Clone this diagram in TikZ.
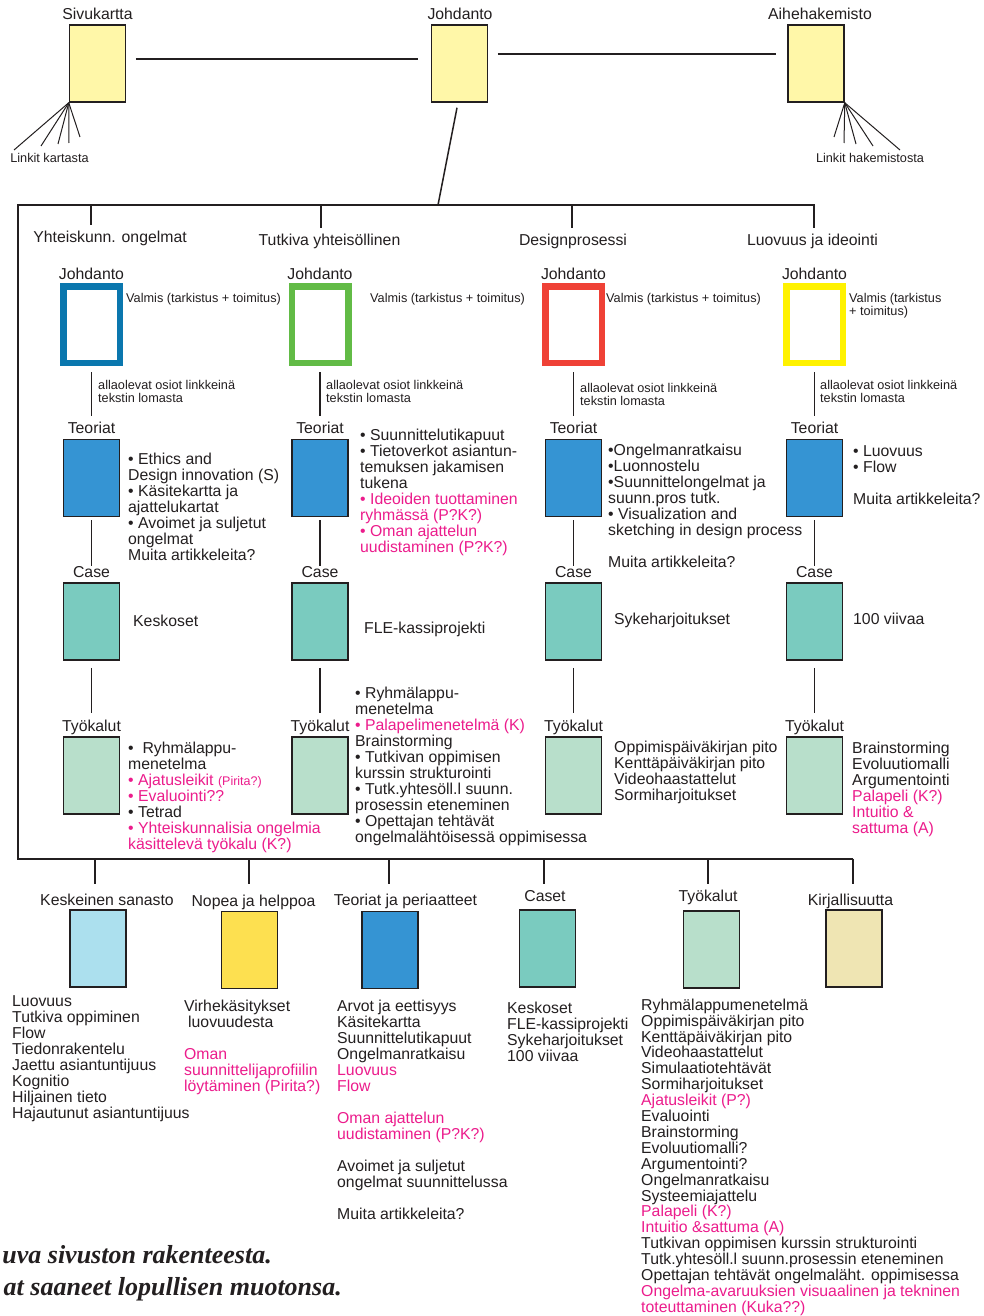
\documentclass[tikz,border=0pt]{standalone}
\usepackage{fontspec}
\setmainfont{Liberation Sans}
\newfontfamily\capserif{Liberation Serif}
\usetikzlibrary{calc}
\definecolor{ink}{HTML}{231F20}
\definecolor{hot}{HTML}{EC1C8C}
\definecolor{paleyellow}{HTML}{FFF7A8}
\definecolor{theoryblue}{HTML}{3594D3}
\definecolor{caseteal}{HTML}{7ACBBF}
\definecolor{toolgreen}{HTML}{B8DFCB}
\definecolor{vocabblue}{HTML}{ACE0EE}
\definecolor{quickyellow}{HTML}{FDE050}
\definecolor{litbeige}{HTML}{EFE5B3}
\definecolor{frameblue}{HTML}{0A77AE}
\definecolor{framegreen}{HTML}{62BB46}
\definecolor{framered}{HTML}{EF4136}
\definecolor{frameyellow}{HTML}{FFF200}
\newcommand\hot[1]{\textcolor{hot}{#1}}

\begin{document}
\begin{tikzpicture}[x=1pt,y=-1pt,
  txt/.style={inner sep=0pt, text=ink, font=\fontsize{15.8}{16}\selectfont},
  small/.style={inner sep=0pt, text=ink, font=\fontsize{12.7}{13}\selectfont},
  list/.style={txt, align=left, anchor=north west},
  smalllist/.style={small, align=left, anchor=north west},
  pagebox/.style={draw=ink, line width=1.5pt, minimum width=56pt, minimum height=77pt, inner sep=0pt},
  introframe/.style={draw=#1, line width=6.5pt, fill=white, minimum width=56.5pt, minimum height=76.5pt, inner sep=0pt},
  link/.style={draw=ink, line width=1.5pt},
  fan/.style={draw=ink, line width=1pt},
  bracket/.style={draw=ink, line width=2pt},
  caption/.style={inner sep=0pt, text=ink, anchor=base east, font=\fontsize{26}{30}\capserif\bfseries\itshape},
]
\useasboundingbox (0,0) rectangle (984,1316);
\fill[white] (0,0) rectangle (984,1316);

% ---------- top level pages ----------
\node[pagebox, fill=paleyellow] (sivu) at (97.5,63.5) {};
\node[pagebox, fill=paleyellow] (jtop) at (459.5,63.5) {};
\node[pagebox, fill=paleyellow] (aihe) at (816,63.5) {};
\node[txt, anchor=base] (sivuL) at (97.5,20) {Sivukartta};
\node[txt, anchor=base] (jtopL) at (460,20) {Johdanto};
\node[txt, anchor=base] (aiheL) at (820,20) {Aihehakemisto};

\draw[link, shorten <=9.5pt, shorten >=12.5pt] ([yshift=4.5pt]sivu.east) -- ([yshift=4.5pt]jtop.west);
\draw[link, shorten <=9.5pt, shorten >=11pt] ([yshift=9.5pt]jtop.east) -- ([yshift=9.5pt]aihe.west);

% link fans
\coordinate (sf1) at (14,150);
\coordinate (sf2) at (41,146);
\coordinate (sf3) at (58,144);
\coordinate (sf4) at (69,143);
\coordinate (sf5) at (80,137);
\coordinate (af1) at (834,137);
\coordinate (af2) at (844,143);
\coordinate (af3) at (856,144);
\coordinate (af4) at (873,146);
\coordinate (af5) at (900,150);
\foreach \i in {1,...,5} {
  \draw[fan] (sivu.south west) -- (sf\i);
  \draw[fan] (aihe.south east) -- (af\i);
}
\node[small, anchor=base] (sivuLinks) at (49.5,163) {Linkit kartasta};
\node[small, anchor=base] (aiheLinks) at (870,163) {Linkit hakemistosta};

% ---------- main bracket ----------
\coordinate (barL) at (18,205);
\coordinate (barR) at (815,205);
\coordinate (baseL) at (18,858.5);
\coordinate (baseR) at (853,858.5);
\coordinate (barjoin) at (438,205);
\draw[bracket] (barR) -- (barL) -- (baseL) -- (baseR);
\draw[link] ([xshift=-2.5pt,yshift=-5pt]jtop.south) -- (barjoin);

% section headings
\node[txt, anchor=base] (h1) at (110,242) {Yhteiskunn. ongelmat};
\node[txt, anchor=base] (h2) at (329.5,245) {Tutkiva yhteisöllinen};
\node[txt, anchor=base] (h3) at (573,245) {Designprosessi};
\node[txt, anchor=base] (h4) at (812.5,245) {Luovuus ja ideointi};
\coordinate (td1) at (91,205);
\coordinate (td2) at (321,205);
\coordinate (td3) at (572,205);
\coordinate (td4) at (814,205);
\foreach \i in {1,...,4} {
  \draw[link, shorten >=5.5pt] (td\i) -- (td\i |- h\i.north);
}

% ---------- four section columns ----------
\foreach \c/\x/\fc in {1/91.5/frameblue, 2/320/framegreen, 3/573.5/framered, 4/814.5/frameyellow} {
  \node[txt, anchor=base] (jl\c) at (\x,279) {Johdanto};
  \node[introframe=\fc] (jd\c) at (\x,324.5) {};
  \node[txt, anchor=base] (tl\c) at (\x,433) {Teoriat};
  \node[pagebox, fill=theoryblue] (th\c) at (\x,478) {};
  \node[txt, anchor=base] (cl\c) at (\x,577) {Case};
  \node[pagebox, fill=caseteal] (cs\c) at (\x,621.5) {};
  \node[txt, anchor=base] (wl\c) at (\x,731) {Työkalut};
  \node[pagebox, fill=toolgreen] (tk\c) at (\x,775.5) {};
  \draw[link, shorten <=6pt, shorten >=5.5pt] (jd\c.south) -- (jd\c.south |- tl\c.north);
  \draw[link, shorten <=3pt] (th\c.south) -- (th\c.south |- cl\c.north);
  \draw[link, shorten <=7pt, shorten >=6.5pt] (cs\c.south) -- (cs\c.south |- wl\c.north);
}

% status notes
\node[small, anchor=base west] (v1) at (126,302) {Valmis (tarkistus + toimitus)};
\node[small, anchor=base west] (v2) at (370,302) {Valmis (tarkistus + toimitus)};
\node[small, anchor=base west] (v3) at (606,302) {Valmis (tarkistus + toimitus)};
\node[smalllist] (v4) at (849,292.8) {Valmis (tarkistus\\+ toimitus)};

\node[smalllist] (a1) at (98,380) {allaolevat osiot linkkeinä\\tekstin lomasta};
\node[smalllist] (a2) at (326,380) {allaolevat osiot linkkeinä\\tekstin lomasta};
\node[smalllist] (a3) at (580,383) {allaolevat osiot linkkeinä\\tekstin lomasta};
\node[smalllist] (a4) at (820,380) {allaolevat osiot linkkeinä\\tekstin lomasta};

% theory lists
\node[list] (t1) at (128,452.6) {• Ethics and\\Design innovation (S)\\• Käsitekartta ja\\ajattelukartat\\• Avoimet ja suljetut\\ongelmat\\Muita artikkeleita?};
\node[list] (t2) at (360,428.6) {• Suunnittelutikapuut\\• Tietoverkot asiantun-\\temuksen jakamisen\\tukena\\\hot{• Ideoiden tuottaminen}\\\hot{ryhmässä (P?K?)}\\\hot{• Oman ajattelun}\\\hot{uudistaminen (P?K?)}};
\node[list] (t3) at (608,443.5) {•Ongelmanratkaisu\\•Luonnostelu\\•Suunnittelongelmat ja\\suunn.pros tutk.\\• Visualization and\\sketching in design process\\[16pt]Muita artikkeleita?};
\node[list] (t4) at (853,445.6) {• Luovuus\\• Flow\\[16pt]Muita artikkeleita?};

% case names
\node[txt, anchor=base west] (k1) at (133,626) {Keskoset};
\node[txt, anchor=base west] (k2) at (364,633) {FLE-kassiprojekti};
\node[txt, anchor=base west] (k3) at (614,624) {Sykeharjoitukset};
\node[txt, anchor=base west] (k4) at (853,624) {100 viivaa};

% tool lists
\node[list] (w1) at (128,741.6) {•\ \ Ryhmälappu-\\menetelma\\\hot{• Ajatusleikit {\fontsize{12.5}{16}\selectfont(Pirita?)}}\\\hot{• Evaluointi??}\\• Tetrad\\\hot{• Yhteiskunnalisia ongelmia}\\\hot{käsittelevä työkalu (K?)}};
\node[list] (w2) at (355,686.6) {• Ryhmälappu-\\menetelma\\\hot{• Palapelimenetelmä (K)}\\Brainstorming\\• Tutkivan oppimisen\\kurssin strukturointi\\• Tutk.yhtesöll.l suunn.\\prosessin eteneminen\\• Opettajan tehtävät\\ongelmalähtöisessä oppimisessa};
\node[list] (w3) at (614,740.6) {Oppimispäiväkirjan pito\\Kenttäpäiväkirjan pito\\Videohaastattelut\\Sormiharjoitukset};
\node[list] (w4) at (852,741.6) {Brainstorming\\Evoluutiomalli\\Argumentointi\\\hot{Palapeli (K?)}\\\hot{Intuitio \&}\\\hot{sattuma (A)}};

% ---------- bottom navigation ----------
\node[txt, anchor=base] (bl1) at (107,905) {Keskeinen sanasto};
\node[txt, anchor=base] (bl2) at (253.5,906) {Nopea ja helppoa};
\node[txt, anchor=base] (bl3) at (405.5,905) {Teoriat ja periaatteet};
\node[txt, anchor=base] (bl4) at (545,901) {Caset};
\node[txt, anchor=base] (bl5) at (708,901) {Työkalut};
\node[txt, anchor=base] (bl6) at (850.5,905) {Kirjallisuutta};
\coordinate (bd1) at (95,858.5);
\coordinate (bd2) at (249,858.5);
\coordinate (bd3) at (389,858.5);
\coordinate (bd4) at (544,858.5);
\coordinate (bd5) at (708,858.5);
\coordinate (bd6) at (853,858.5);
\foreach \i/\s in {1/9.5, 2/10.5, 3/9.5, 4/5.5, 5/5.5, 6/9.5} {
  \draw[link, shorten >=\s pt] (bd\i) -- (bd\i |- bl\i.north);
}

\node[pagebox, fill=vocabblue] (bb1) at (98,948.5) {};
\node[pagebox, fill=quickyellow] (bb2) at (249.5,950) {};
\node[pagebox, fill=theoryblue] (bb3) at (390,950) {};
\node[pagebox, fill=caseteal] (bb4) at (547.5,948.5) {};
\node[pagebox, fill=toolgreen] (bb5) at (711.5,949.5) {};
\node[pagebox, fill=litbeige] (bb6) at (854,948.5) {};

\node[list] (bt1) at (12,995.6) {Luovuus\\Tutkiva oppiminen\\Flow\\Tiedonrakentelu\\Jaettu asiantuntijuus\\Kognitio\\Hiljainen tieto\\Hajautunut asiantuntijuus};
\node[list] (bt2) at (184,999.6) {Virhekäsitykset\\\hspace{4pt}luovuudesta\\[16pt]\hot{Oman}\\\hot{suunnittelijaprofiilin}\\\hot{löytäminen (Pirita?)}};
\node[list] (bt3) at (337,999.6) {Arvot ja eettisyys\\Käsitekartta\\Suunnittelutikapuut\\Ongelmanratkaisu\\\hot{Luovuus}\\\hot{Flow}\\[16pt]\hot{Oman ajattelun}\\\hot{uudistaminen (P?K?)}\\[16pt]Avoimet ja suljetut\\ongelmat suunnittelussa\\[16pt]Muita artikkeleita?};
\node[list] (bt4) at (507,1001.6) {Keskoset\\FLE-kassiprojekti\\Sykeharjoitukset\\100 viivaa};
\node[list, font=\fontsize{15.8}{15.9}\selectfont] (bt5) at (641,998.6) {Ryhmälappumenetelmä\\Oppimispäiväkirjan pito\\Kenttäpäiväkirjan pito\\Videohaastattelut\\Simulaatiotehtävät\\Sormiharjoitukset\\\hot{Ajatusleikit (P?)}\\Evaluointi\\Brainstorming\\Evoluutiomalli?\\Argumentointi?\\Ongelmanratkaisu\\Systeemiajattelu\\\hot{Palapeli (K?)}\\\hot{Intuitio \&sattuma (A)}\\Tutkivan oppimisen kurssin strukturointi\\Tutk.yhtesöll.l suunn.prosessin eteneminen\\Opettajan tehtävät ongelmaläht. oppimisessa\\\hot{Ongelma-avaruuksien visuaalinen ja tekninen}\\\hot{toteuttaminen (Kuka??)}};

% caption lines
\node[caption] (cap1) at (272,1263) {uva sivuston rakenteesta.};
\node[caption] (cap2) at (342,1295) {at saaneet lopullisen muotonsa.};
\end{tikzpicture}
\end{document}
